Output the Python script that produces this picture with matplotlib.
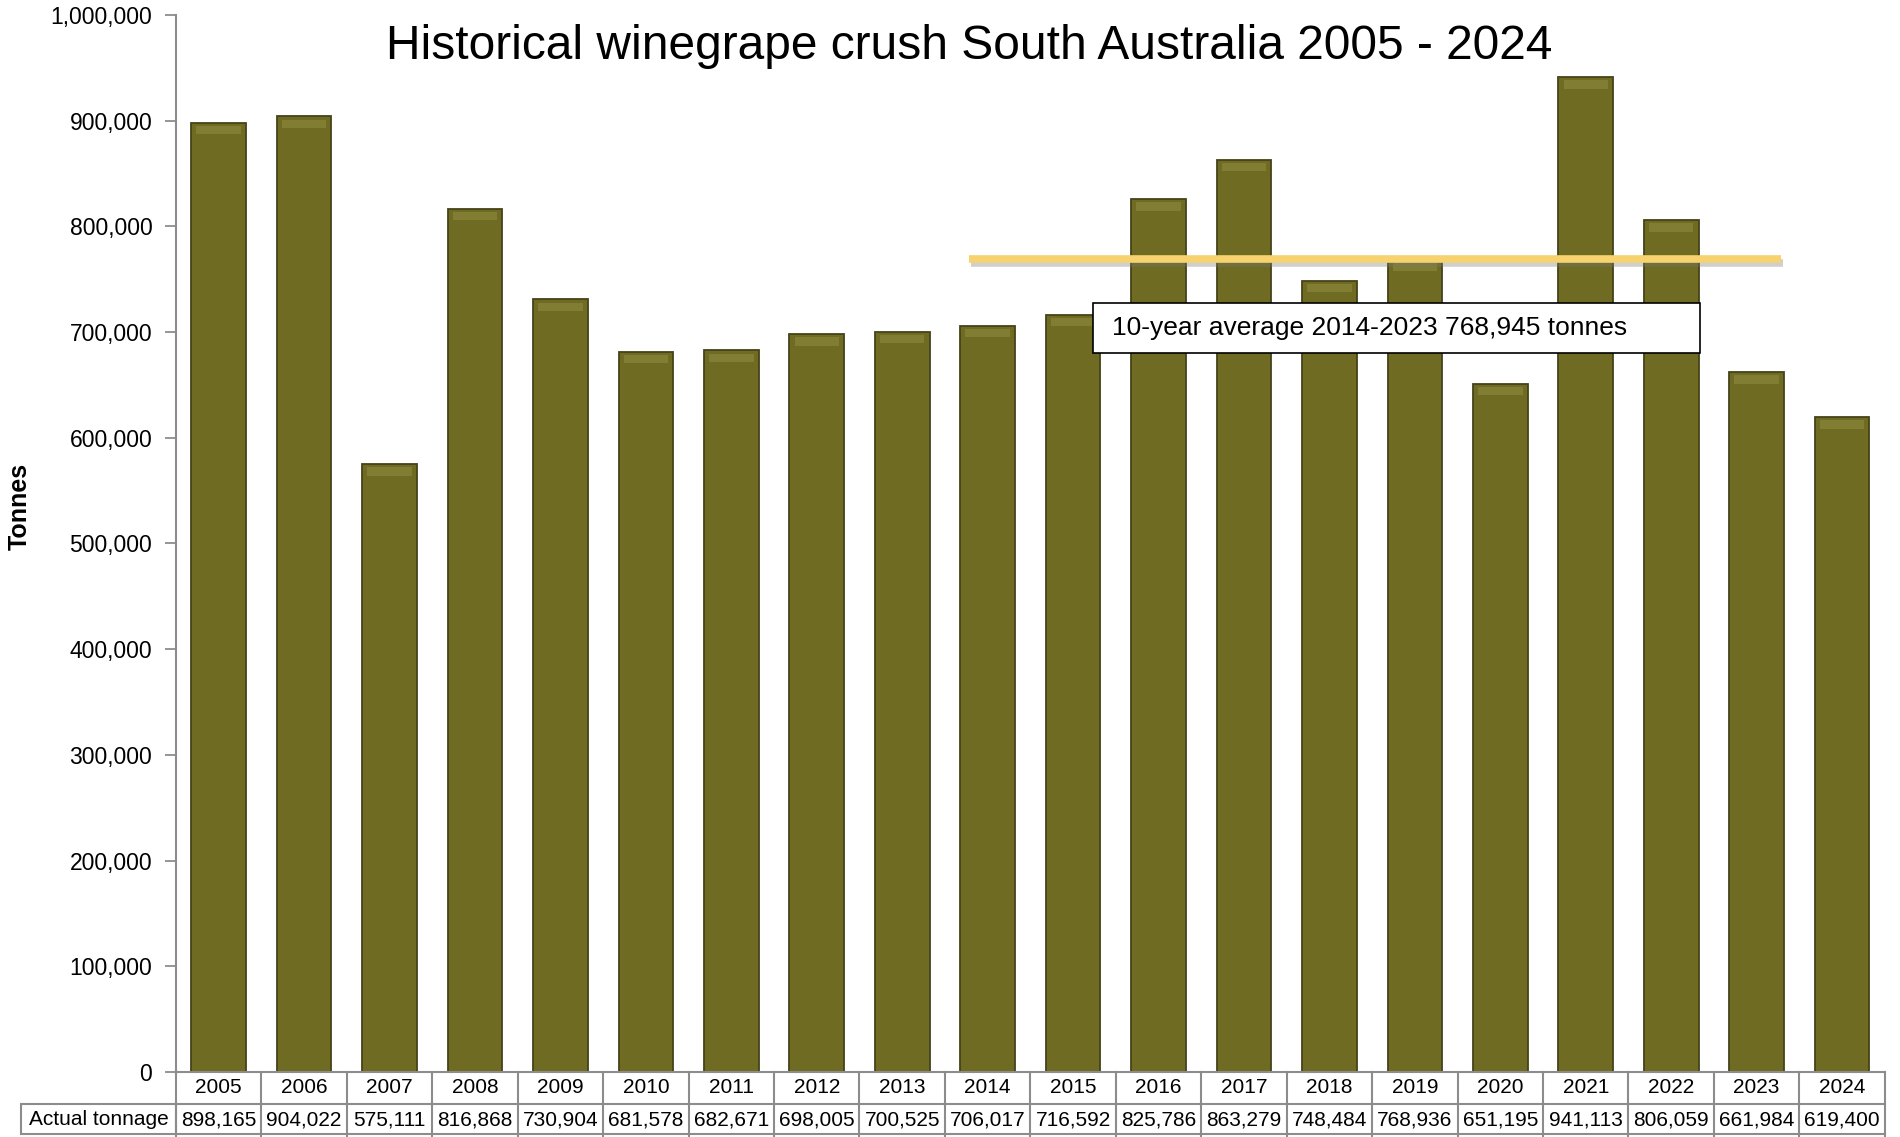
import numpy as np
import matplotlib
matplotlib.use("Agg")
import matplotlib.pyplot as plt
import matplotlib.patheffects as pe
from matplotlib.patches import Rectangle
from matplotlib.ticker import MultipleLocator, FuncFormatter
from matplotlib.transforms import blended_transform_factory

plt.rcParams['font.family'] = ['Liberation Sans', 'DejaVu Sans']

# data
years = [2005, 2006, 2007, 2008, 2009, 2010, 2011, 2012, 2013, 2014,
         2015, 2016, 2017, 2018, 2019, 2020, 2021, 2022, 2023, 2024]
tonnage = [898165, 904022, 575111, 816868, 730904, 681578, 682671, 698005,
           700525, 706017, 716592, 825786, 863279, 748484, 768936, 651195,
           941113, 806059, 661984, 619400]
avg_value = 768945
avg_first, avg_last = 2014, 2023
title = "Historical winegrape crush South Australia 2005 - 2024"
avg_label = "10-year average 2014-2023 768,945 tonnes"
row_label = "Actual tonnage"

bar_color = '#6F6B22'
edge_color = '#45431A'
grid_gray = '#8c8c8c'

fig = plt.figure(figsize=(19, 11.37), dpi=100)
ax = fig.add_axes([0.0926, 0.0572, 0.8994, 0.9296])

x = np.arange(len(years))
ax.bar(x, tonnage, width=0.64, color=bar_color, edgecolor=edge_color,
       linewidth=1.3, zorder=2)
# soft glossy cap on top of each bar
vals = np.array(tonnage)
ax.bar(x, np.full(len(x), 8000), bottom=vals - 11000, width=0.52,
       color='#A5A150', alpha=0.35, linewidth=0, zorder=3)

# 10-year average line
i0 = years.index(avg_first) - 0.22
i1 = years.index(avg_last) + 0.28
ax.plot([i0, i1], [avg_value, avg_value], color='#F6D36E', lw=5.5,
        solid_capstyle='butt', zorder=5,
        path_effects=[pe.SimpleLineShadow(offset=(1.5, -3), shadow_color='#777777', alpha=0.35),
                      pe.Normal()])

# annotation box
ax.add_patch(Rectangle((0.5366, 0.680), 0.3552, 0.0475, transform=ax.transAxes,
                       facecolor='white', edgecolor='black', lw=1.2, zorder=6))
ax.text(0.5477, 0.7035, avg_label, transform=ax.transAxes, fontsize=19,
        va='center', ha='left', zorder=7)

ax.set_xlim(-0.5, len(years) - 0.5)
ax.set_ylim(0, 1000000)
ax.yaxis.set_major_locator(MultipleLocator(100000))
ax.yaxis.set_major_formatter(FuncFormatter(lambda v, p: f"{int(v):,}"))
ax.tick_params(axis='y', length=8, width=1.3, color=grid_gray, pad=9, labelsize=16.5)
ax.set_xticks([])
for s in ['top', 'right']:
    ax.spines[s].set_visible(False)
ax.spines['left'].set_color(grid_gray)
ax.spines['left'].set_linewidth(1.5)
ax.spines['bottom'].set_color(grid_gray)
ax.spines['bottom'].set_linewidth(1.5)

fig.text(0.51, 0.959, title, ha='center', va='center', fontsize=34.5)
fig.text(0.0105, 0.555, "Tonnes", rotation=90, ha='center', va='center',
         fontsize=18, fontweight='bold')

# data table under the axis
tr = blended_transform_factory(ax.transData, ax.transAxes)
row_h = 32 / 1057.0
lc = dict(color=grid_gray, lw=1.5, clip_on=False, transform=tr)
for i, (yr, v) in enumerate(zip(years, tonnage)):
    ax.text(i, -row_h / 2, str(yr), transform=tr, ha='center', va='center', fontsize=15)
    ax.text(i, -1.5 * row_h, f"{v:,}", transform=tr, ha='center', va='center', fontsize=15)
    ax.plot([i + 0.5, i + 0.5], [0, -2 * row_h], **lc)
ax.plot([-0.5, -0.5], [0, -2 * row_h], **lc)
ax.plot([-0.5, len(years) - 0.5], [-row_h, -row_h], **lc)
ax.plot([-0.5, len(years) - 0.5], [-2 * row_h + 0.002, -2 * row_h + 0.002], **lc)

# row label cell
ta = ax.transAxes
x_lab0 = (21 - 176) / 1709.0
ax.add_patch(Rectangle((x_lab0, -2 * row_h + 0.002), -x_lab0, row_h - 0.002, transform=ta,
                       facecolor='none', edgecolor=grid_gray, lw=1.5, clip_on=False))
ax.text(x_lab0 / 2, -1.5 * row_h, row_label, transform=ta, ha='center', va='center',
        fontsize=15)

fig.savefig('out.png', dpi=100)
